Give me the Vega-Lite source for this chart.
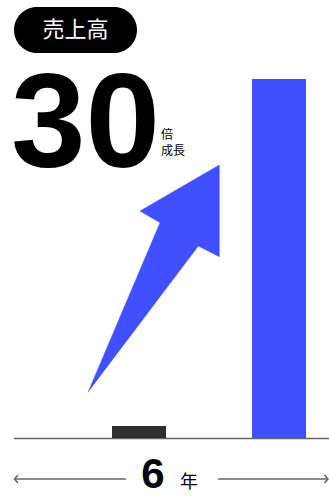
{
  "$schema": "https://vega.github.io/schema/vega-lite/v6.json",
  "width": 329,
  "height": 497,
  "padding": 0,
  "autosize": {"type": "none"},
  "background": "white",
  "config": {"view": {"stroke": null}},
  "datasets": {
    "bars": [
      {"period": "開始", "x": 112, "x2": 166, "value": 1},
      {"period": "6年後", "x": 252, "x2": 306, "value": 30}
    ],
    "arrow": [
      {"i": 0, "x": 88.3, "y": 3.87},
      {"i": 1, "x": 160, "y": 17.99},
      {"i": 2, "x": 140, "y": 18.96},
      {"i": 3, "x": 219.3, "y": 22.81},
      {"i": 4, "x": 219.3, "y": 15.15},
      {"i": 5, "x": 198.3, "y": 16.04}
    ],
    "guides": [
      {"g": "L", "i": 0, "x": 18, "y": -3.09},
      {"g": "L", "i": 1, "x": 14.5, "y": -3.425},
      {"g": "L", "i": 2, "x": 18, "y": -3.76},
      {"g": "Ll", "i": 0, "x": 14.5, "y": -3.425},
      {"g": "Ll", "i": 1, "x": 126, "y": -3.425},
      {"g": "Rl", "i": 0, "x": 218, "y": -3.425},
      {"g": "Rl", "i": 1, "x": 328, "y": -3.425},
      {"g": "R", "i": 0, "x": 324.5, "y": -3.09},
      {"g": "R", "i": 1, "x": 328, "y": -3.425},
      {"g": "R", "i": 2, "x": 324.5, "y": -3.76}
    ]
  },
  "encoding": {
    "x": {"type": "quantitative", "scale": {"domain": [0, 329], "nice": false, "zero": false}, "axis": null},
    "y": {"type": "quantitative", "scale": {"domain": [-4.929, 36.592], "nice": false, "zero": false}, "axis": null}
  },
  "layer": [
    {
      "data": {"values": [{"x": 14, "x2": 329, "y": -0.04}]},
      "mark": {"type": "rule", "color": "#666666", "strokeWidth": 1.5},
      "encoding": {"x": {"field": "x"}, "x2": {"field": "x2"}, "y": {"field": "y"}}
    },
    {
      "data": {"name": "bars"},
      "mark": {"type": "rect"},
      "encoding": {
        "x": {"field": "x"},
        "x2": {"field": "x2"},
        "y": {"field": "value"},
        "y2": {"datum": 0},
        "color": {"field": "period", "type": "nominal", "scale": {"domain": ["開始", "6年後"], "range": ["#2e2e2e", "#4150ff"]}, "legend": null}
      }
    },
    {
      "data": {"name": "arrow"},
      "mark": {"type": "line", "fill": "#4150ff", "stroke": "#4150ff", "strokeWidth": 0.5, "interpolate": "linear-closed"},
      "encoding": {"x": {"field": "x"}, "y": {"field": "y"}, "order": {"field": "i", "type": "quantitative"}}
    },
    {
      "data": {"name": "guides"},
      "mark": {"type": "line", "stroke": "#666666", "strokeWidth": 1.5},
      "encoding": {"x": {"field": "x"}, "y": {"field": "y"}, "detail": {"field": "g", "type": "nominal"}, "order": {"field": "i", "type": "quantitative"}}
    },
    {
      "data": {"values": [{"x": 14, "x2": 137, "y": 36.01, "y2": 32.16}]},
      "mark": {"type": "rect", "color": "#000000", "cornerRadius": 23},
      "encoding": {"x": {"field": "x"}, "x2": {"field": "x2"}, "y": {"field": "y"}, "y2": {"field": "y2"}}
    },
    {
      "data": {"values": [{"x": 75.5, "y": 34.09, "t": "売上高"}]},
      "mark": {"type": "text", "color": "white", "font": "Noto Sans CJK JP", "fontSize": 22, "align": "center", "baseline": "middle"},
      "encoding": {"x": {"field": "x"}, "y": {"field": "y"}, "text": {"field": "t"}}
    },
    {
      "data": {"values": [{"x": 11, "y": 22.64, "t": "30"}]},
      "mark": {"type": "text", "color": "black", "font": "Liberation Sans", "fontWeight": "bold", "fontSize": 134, "align": "left", "baseline": "alphabetic"},
      "encoding": {"x": {"field": "x"}, "y": {"field": "y"}, "text": {"field": "t"}}
    },
    {
      "data": {"values": [{"x": 161, "y": 25.31, "t": "倍"}, {"x": 161, "y": 23.98, "t": "成長"}]},
      "mark": {"type": "text", "color": "black", "font": "Noto Sans CJK JP", "fontSize": 12, "align": "left", "baseline": "middle"},
      "encoding": {"x": {"field": "x"}, "y": {"field": "y"}, "text": {"field": "t"}}
    },
    {
      "data": {"values": [{"x": 153, "y": -3.09, "t": "6"}]},
      "mark": {"type": "text", "color": "black", "font": "Liberation Sans", "fontWeight": "bold", "fontSize": 42, "align": "center", "baseline": "middle"},
      "encoding": {"x": {"field": "x"}, "y": {"field": "y"}, "text": {"field": "t"}}
    },
    {
      "data": {"values": [{"x": 189, "y": -3.76, "t": "年"}]},
      "mark": {"type": "text", "color": "black", "font": "Noto Sans CJK JP", "fontSize": 18, "align": "center", "baseline": "middle"},
      "encoding": {"x": {"field": "x"}, "y": {"field": "y"}, "text": {"field": "t"}}
    }
  ]
}
